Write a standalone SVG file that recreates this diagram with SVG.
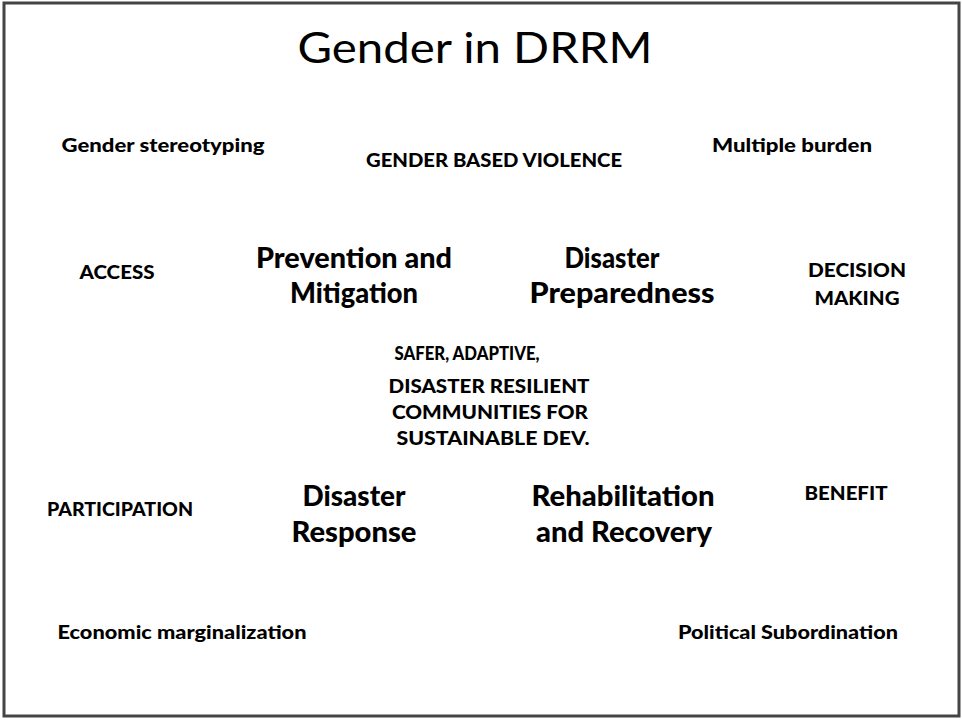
<svg xmlns="http://www.w3.org/2000/svg" width="962" height="720" viewBox="0 0 962 720">
<style>
text{font-family:Lato,"Open Sans","Liberation Sans",sans-serif;fill:#000;text-anchor:middle;font-weight:900}
.s{font-size:19px}
.m{font-size:18px}
.l{font-size:28px}
.t{font-size:43px;font-weight:normal}
</style>
<rect x="4" y="3" width="955" height="713" fill="#fff" stroke="#444" stroke-width="3"/>
<g id="title"><text class="t" x="475" y="63" textLength="355" lengthAdjust="spacingAndGlyphs">Gender in DRRM</text></g>
<g id="stereotyping"><text class="s" x="163" y="152" textLength="203" lengthAdjust="spacingAndGlyphs">Gender stereotyping</text></g>
<g id="gbv"><text class="m" x="494" y="167" textLength="256" lengthAdjust="spacingAndGlyphs">GENDER BASED VIOLENCE</text></g>
<g id="burden"><text class="s" x="792" y="152" textLength="160" lengthAdjust="spacingAndGlyphs">Multiple burden</text></g>
<g id="access"><text class="m" x="117" y="279" textLength="75" lengthAdjust="spacingAndGlyphs">ACCESS</text></g>
<g id="prevention">
<text class="l" x="354" y="268" textLength="196" lengthAdjust="spacingAndGlyphs">Prevention and</text>
<text class="l" x="354" y="303" textLength="128" lengthAdjust="spacingAndGlyphs">Mitigation</text>
</g>
<g id="preparedness">
<text class="l" x="612" y="268" textLength="95" lengthAdjust="spacingAndGlyphs">Disaster</text>
<text class="l" x="622" y="303" textLength="185" lengthAdjust="spacingAndGlyphs">Preparedness</text>
</g>
<g id="decision">
<text class="m" x="857" y="277" textLength="98" lengthAdjust="spacingAndGlyphs">DECISION</text>
<text class="m" x="857" y="305" textLength="85" lengthAdjust="spacingAndGlyphs">MAKING</text>
</g>
<g id="center">
<text class="m" x="467" y="360" textLength="145" lengthAdjust="spacingAndGlyphs">SAFER, ADAPTIVE,</text>
<text class="m" x="489" y="393" textLength="201" lengthAdjust="spacingAndGlyphs">DISASTER RESILIENT</text>
<text class="m" x="490" y="419" textLength="196" lengthAdjust="spacingAndGlyphs">COMMUNITIES FOR</text>
<text class="m" x="493" y="445" textLength="193" lengthAdjust="spacingAndGlyphs">SUSTAINABLE DEV.</text>
</g>
<g id="participation"><text class="m" x="120" y="516" textLength="146" lengthAdjust="spacingAndGlyphs">PARTICIPATION</text></g>
<g id="response">
<text class="l" x="354" y="506" textLength="103" lengthAdjust="spacingAndGlyphs">Disaster</text>
<text class="l" x="354" y="542" textLength="125" lengthAdjust="spacingAndGlyphs">Response</text>
</g>
<g id="rehabilitation">
<text class="l" x="623" y="506" textLength="183" lengthAdjust="spacingAndGlyphs">Rehabilitation</text>
<text class="l" x="624" y="542" textLength="176" lengthAdjust="spacingAndGlyphs">and Recovery</text>
</g>
<g id="benefit"><text class="m" x="846" y="500" textLength="83" lengthAdjust="spacingAndGlyphs">BENEFIT</text></g>
<g id="economic"><text class="s" x="182" y="639" textLength="249" lengthAdjust="spacingAndGlyphs">Economic marginalization</text></g>
<g id="political"><text class="s" x="788" y="639" textLength="220" lengthAdjust="spacingAndGlyphs">Political Subordination</text></g>
</svg>
